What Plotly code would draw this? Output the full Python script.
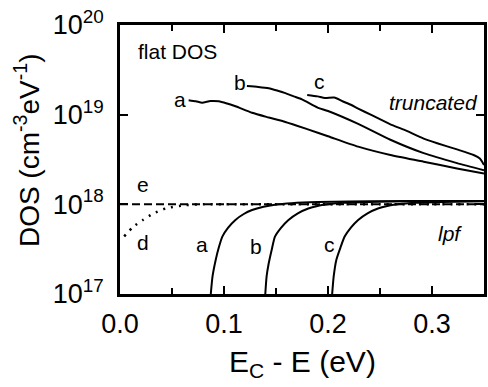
import plotly.graph_objects as go

# ---- data (x: Ec - E in eV, y: DOS in cm^-3 eV^-1) ----
trunc_a_x = [0.066, 0.073, 0.079, 0.087, 0.095, 0.103, 0.111, 0.127, 0.143, 0.159, 0.18, 0.2, 0.229, 0.26, 0.292, 0.324, 0.35]
trunc_a_y = [1.45e19, 1.41e19, 1.36e19, 1.42e19, 1.41e19, 1.33e19, 1.24e19, 1.05e19, 9.3e18, 8.3e18, 6.9e18, 5.75e18, 4.4e18, 3.55e18, 2.99e18, 2.51e18, 2.21e18]

trunc_b_x = [0.122, 0.133, 0.143, 0.151, 0.159, 0.167, 0.175, 0.19, 0.2, 0.229, 0.26, 0.292, 0.324, 0.35]
trunc_b_y = [2.09e19, 2.04e19, 1.97e19, 1.86e19, 1.74e19, 1.6e19, 1.48e19, 1.2e19, 1.1e19, 7.9e18, 5.25e18, 3.72e18, 2.88e18, 2.4e18]

trunc_c_x = [0.18, 0.19, 0.197, 0.206, 0.214, 0.222, 0.229, 0.241, 0.26, 0.273, 0.292, 0.305, 0.324, 0.34, 0.346, 0.35]
trunc_c_y = [1.66e19, 1.6e19, 1.53e19, 1.55e19, 1.41e19, 1.29e19, 1.17e19, 1.0e19, 7.8e18, 6.8e18, 5.4e18, 4.8e18, 4.1e18, 3.55e18, 3.24e18, 2.75e18]

lpf_a_x = [0.0873, 0.089, 0.092, 0.095, 0.0984, 0.104, 0.111, 0.119, 0.127, 0.138, 0.149, 0.165, 0.19, 0.22, 0.26, 0.30, 0.35]
lpf_a_y = [1.0e17, 1.58e17, 2.4e17, 3.3e17, 4.37e17, 5.5e17, 6.7e17, 7.8e17, 8.65e17, 9.4e17, 9.9e17, 1.03e18, 1.06e18, 1.075e18, 1.085e18, 1.09e18, 1.09e18]

lpf_b_x = [0.1397, 0.141, 0.143, 0.146, 0.149, 0.155, 0.162, 0.171, 0.181, 0.19, 0.2, 0.215, 0.24, 0.27, 0.31, 0.35]
lpf_b_y = [1.0e17, 1.58e17, 2.2e17, 3.16e17, 4.37e17, 5.5e17, 6.7e17, 7.95e17, 9.0e17, 9.6e17, 1.0e18, 1.04e18, 1.065e18, 1.08e18, 1.09e18, 1.09e18]

lpf_c_x = [0.204, 0.2055, 0.208, 0.212, 0.216, 0.222, 0.229, 0.238, 0.248, 0.257, 0.267, 0.285, 0.31, 0.35]
lpf_c_y = [1.0e17, 1.58e17, 2.4e17, 3.3e17, 4.37e17, 5.5e17, 6.7e17, 7.95e17, 9.0e17, 9.6e17, 1.0e18, 1.04e18, 1.065e18, 1.08e18]

flat_d_x = [0.004, 0.0127, 0.022, 0.032, 0.044, 0.063, 0.08, 0.1, 0.15, 0.2, 0.25, 0.3, 0.35]
flat_d_y = [4.4e17, 5.6e17, 6.7e17, 7.9e17, 9.0e17, 9.8e17, 1.0e18, 1.0e18, 1.0e18, 1.0e18, 1.0e18, 1.0e18, 1.0e18]

flat_e_x = [0.0, 0.35]
flat_e_y = [1.0e18, 1.0e18]

x_tickvals = [0.0, 0.1, 0.2, 0.3]
x_ticktext = ["0.0", "0.1", "0.2", "0.3"]
x_minor_tickvals = [0.05, 0.15, 0.25]
y_tickvals = [1e17, 1e18, 1e19, 1e20]
y_ticktext = ["10<sup>17</sup>", "10<sup>18</sup>", "10<sup>19</sup>", "10<sup>20</sup>"]

# curve labels: (text, x, log10 y)
labels = [
    ("a", 0.058, 19.164), ("b", 0.115, 19.364), ("c", 0.192, 19.375),
    ("a", 0.079, 17.547), ("b", 0.131, 17.535), ("c", 0.201, 17.547),
    ("d", 0.0219, 17.569), ("e", 0.0219, 18.216),
    ("flat DOS", 0.055, 19.704),
    ("<i>truncated</i>", 0.301, 19.141),
    ("<i>lpf</i>", 0.317, 17.68),
]

FONT = "Liberation Sans, Arial, Helvetica, sans-serif"
fig = go.Figure()

def add_line(x, y, dash="solid", width=2):
    fig.add_trace(go.Scatter(x=x, y=y, mode="lines",
                             line=dict(color="black", width=width, dash=dash, shape="spline", smoothing=0.6),
                             showlegend=False, hoverinfo="skip"))

for xs, ys in [(trunc_a_x, trunc_a_y), (trunc_b_x, trunc_b_y), (trunc_c_x, trunc_c_y),
               (lpf_a_x, lpf_a_y), (lpf_b_x, lpf_b_y), (lpf_c_x, lpf_c_y)]:
    add_line(xs, ys)
add_line(flat_e_x, flat_e_y, dash="8px,4px", width=2)
add_line(flat_d_x, flat_d_y, dash="2px,6px", width=2.5)

for t, x, y in labels:
    fig.add_annotation(x=x, y=y, xref="x", yref="y", text=t, showarrow=False,
                       font=dict(family=FONT, size=21, color="black"))

# axis titles
fig.add_annotation(x=0.5, y=0, xref="paper", yref="paper", yanchor="middle", yshift=-69,
                   text="E<sub>C</sub> - E (eV)", showarrow=False,
                   font=dict(family=FONT, size=30, color="black"))
fig.add_annotation(x=0, y=0.535, xref="paper", yref="paper", xanchor="center", xshift=-93,
                   text="DOS (cm<sup>-3</sup>eV<sup>-1</sup>)", textangle=-90, showarrow=False,
                   font=dict(family=FONT, size=28, color="black"))

fig.update_xaxes(range=[0, 0.35], tickvals=x_tickvals, ticktext=x_ticktext,
                 ticks="inside", ticklen=8, tickwidth=2, tickcolor="black",
                 minor=dict(tickvals=x_minor_tickvals, ticks="inside", ticklen=6, tickwidth=2, tickcolor="black"),
                 showline=True, linecolor="black", linewidth=2.5, mirror="allticks",
                 showgrid=False, zeroline=False, ticklabelstandoff=4,
                 tickfont=dict(family=FONT, size=27, color="black"))
fig.update_yaxes(type="log", range=[17, 20], tickvals=y_tickvals, ticktext=y_ticktext,
                 ticks="inside", ticklen=8, tickwidth=2, tickcolor="black",
                 showline=True, linecolor="black", linewidth=2.5, mirror="allticks",
                 showgrid=False, zeroline=False, ticklabelstandoff=8,
                 tickfont=dict(family=FONT, size=27, color="black"))

fig.update_layout(width=488, height=387, margin=dict(l=120, r=1, t=25, b=93),
                  paper_bgcolor="white", plot_bgcolor="white")

fig.write_html("out.html")
